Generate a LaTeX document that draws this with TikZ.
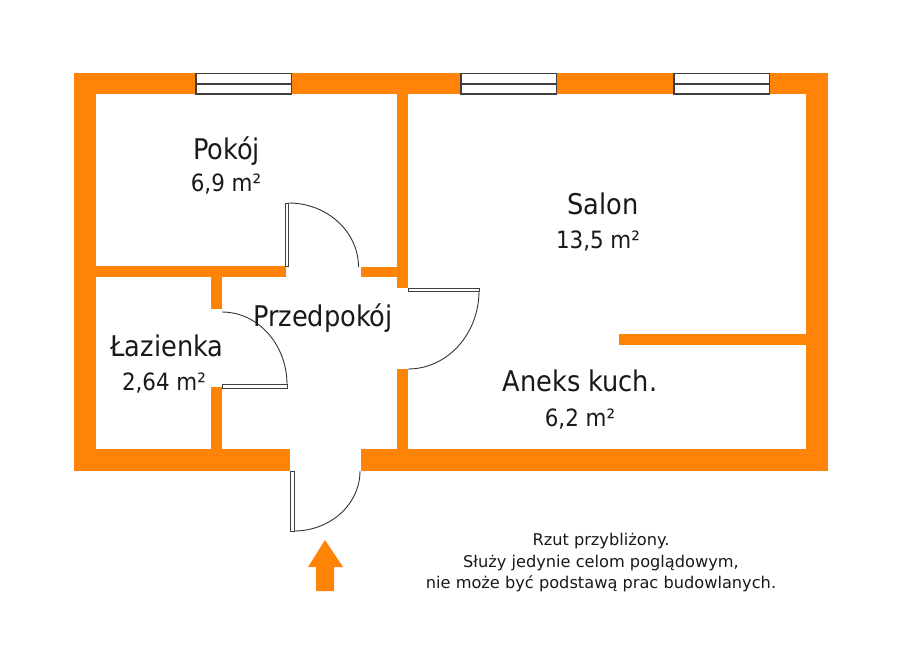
\documentclass[tikz,border=0pt]{standalone}
\usepackage{fontspec}
\setmainfont{DejaVu Sans Condensed}
\newfontfamily\notefont{DejaVu Sans}
\definecolor{wallorange}{HTML}{FF8307}
\begin{document}
\begin{tikzpicture}[x=1pt,y=-1pt,
  wall/.style={fill=wallorange,draw=none},
  leaf/.style={draw=black!75,fill=white,line width=0.8pt},
  swing/.style={draw=black!80,line width=0.9pt},
  window/.style={draw=black!75,fill=white,line width=1.1pt},
  room name/.style={anchor=base,font=\fontsize{28.5}{28.5}\selectfont,text=black!90},
  room area/.style={anchor=base,font=\fontsize{23.8}{23.8}\selectfont,text=black!90},
  note/.style={anchor=base,font=\notefont\fontsize{16.2}{16.2}\selectfont,text=black!90}]
  \useasboundingbox (0,0) rectangle (918,658);
  % outer walls
  \fill[wall] (74,73) rectangle (828,94);
  \fill[wall] (74,73) rectangle (96,471);
  \fill[wall] (806,73) rectangle (828,471);
  \fill[wall] (74,449) rectangle (290,471);
  \fill[wall] (361,449) rectangle (828,471);
  % inner walls
  \fill[wall] (96,266) rectangle (286,277);
  \fill[wall] (361,267) rectangle (397,277);
  \fill[wall] (397,94) rectangle (408,288);
  \fill[wall] (397,369) rectangle (408,449);
  \fill[wall] (211,277) rectangle (222,309);
  \fill[wall] (211,387) rectangle (222,449);
  \fill[wall] (619,334) rectangle (806,345);
  % windows
  \foreach \x in {196,461,674} {
    \draw[window] (\x,73.5) rectangle (\x+95.5,94);
    \draw[window] (\x,84) -- (\x+95.5,84);
  }
  % doors
  \draw[leaf] (285.5,203) rectangle (288.5,266);
  \draw[swing] (288.5,203) arc[start angle=90,end angle=0,x radius=70pt,y radius=64pt];
  \draw[leaf] (408,288) rectangle (479,291);
  \draw[swing] (479,291) arc[start angle=0,end angle=-90,x radius=71pt,y radius=78pt];
  \draw[leaf] (222,384.5) rectangle (287,388);
  \draw[swing] (222,312) arc[start angle=90,end angle=0,x radius=65pt,y radius=72.5pt];
  \draw[leaf] (290.5,471) rectangle (294,531);
  \draw[swing] (294,531) arc[start angle=-90,end angle=0,x radius=66pt,y radius=60pt];
  % entrance arrow
  \fill[wall] (325,540) -- (343,567) -- (334,567) -- (334,591) -- (316,591) -- (316,567) -- (308,567) -- cycle;
  % labels
  \node[room name] (pokoj) at (226.5,159) {Pokój};
  \node[room area] (pokojarea) at (226,191) {6,9 m²};
  \node[room name] (salon) at (603,214) {Salon};
  \node[room area] (salonarea) at (598,248) {13,5 m²};
  \node[room name] (lazienka) at (167,356) {Łazienka};
  \node[room area] (lazienkaarea) at (164,390) {2,64 m²};
  \node[room name] (przedpokoj) at (323,326) {Przedpokój};
  \node[room name] (aneks) at (580,391) {Aneks kuch.};
  \node[room area] (aneksarea) at (580,426) {6,2 m²};
  \node[note] (note1) at (601,545) {Rzut przybliżony.};
  \node[note] (note2) at (601,567) {Służy jedynie celom poglądowym,};
  \node[note] (note3) at (601,588) {nie może być podstawą prac budowlanych.};
\end{tikzpicture}
\end{document}
